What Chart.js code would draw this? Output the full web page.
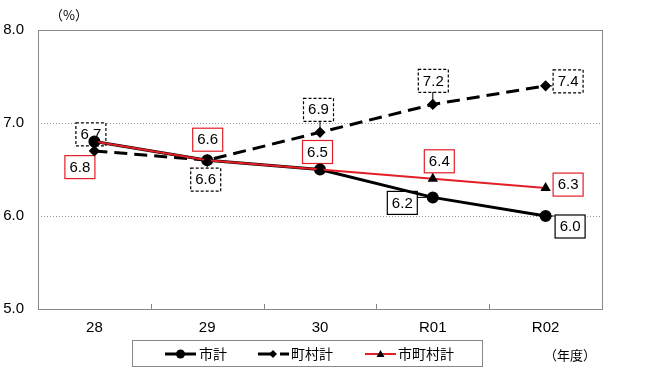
<!DOCTYPE html>
<html>
<head>
<meta charset="utf-8">
<script src="https://cdn.jsdelivr.net/npm/chart.js@4/dist/chart.umd.min.js"></script>
<style>
  body { margin: 0; background: #fff; }
  #wrap { width: 650px; height: 380px; }
</style>
</head>
<body>
<div id="wrap"><canvas id="rateChart" width="650" height="380"></canvas></div>
<script>
// 年度ごとの率（%）
const years = ['28', '29', '30', 'R01', 'R02'];
const cityTotal = [6.8, 6.6, 6.5, 6.2, 6.0];      // 市計
const townTotal = [6.7, 6.6, 6.9, 7.2, 7.4];      // 町村計
const allTotal = [6.8, 6.6, 6.5, 6.4, 6.3];       // 市町村計
const yTicks = [5, 6, 7, 8];

// ラベルの位置（点からのずれ, px）— null は表示しない
const cityLabelPos = [null, null, null, [-31, 5], [24, 10]];
const townLabelPos = [[-4, -17], [-2, 19], [-2, -23], [0, -24], [22, -5]];
const allLabelPos = [[-15, 25], [0, -21], [-3, -18], [6, -18], [22, -4]];

const RED = 'rgb(228,30,38)';
const FONT = '"Liberation Sans", Arial, "Noto Sans CJK JP", sans-serif';
const JFONT = '"Noto Sans CJK JP", "Liberation Sans", sans-serif';

const labelPlugin = {
    id: 'boxLabels',
    beforeDatasetsDraw(chart) {
        const ctx = chart.ctx;
        const setups = [
            { idx: 0, pos: cityLabelPos, color: '#000', dash: [] },
            { idx: 1, pos: townLabelPos, color: '#000', dash: [3, 2] },
            { idx: 2, pos: allLabelPos, color: RED, dash: [] }
        ];
        const bw = 30, bh = 23;
        ctx.save();
        ctx.font = '15px ' + FONT;
        ctx.textAlign = 'center';
        ctx.textBaseline = 'middle';
        setups.forEach(s => {
            const meta = chart.getDatasetMeta(s.idx);
            const values = chart.data.datasets[s.idx].data;
            meta.data.forEach((pt, i) => {
                const p = s.pos[i];
                if (!p) return;
                const cx = pt.x + p[0], cy = pt.y + p[1];
                const x0 = cx - bw / 2, y0 = cy - bh / 2;
                // 引き出し線
                const nx = Math.max(x0, Math.min(pt.x, x0 + bw));
                const ny = Math.max(y0, Math.min(pt.y, y0 + bh));
                if (Math.hypot(nx - pt.x, ny - pt.y) > 3 && s.idx !== 2) {
                    ctx.setLineDash([]);
                    ctx.strokeStyle = '#000';
                    ctx.lineWidth = 1;
                    ctx.beginPath();
                    ctx.moveTo(nx, ny);
                    ctx.lineTo(pt.x, pt.y);
                    ctx.stroke();
                }
                ctx.fillStyle = '#fff';
                ctx.fillRect(x0, y0, bw, bh);
                ctx.setLineDash(s.dash);
                ctx.strokeStyle = s.color;
                ctx.lineWidth = 1.2;
                ctx.strokeRect(x0 + 0.5, y0 + 0.5, bw, bh);
                ctx.setLineDash([]);
                ctx.fillStyle = '#000';
                ctx.fillText(values[i].toFixed(1), cx + 0.5, cy + 1);
            });
        });
        ctx.restore();
    }
};

const framePlugin = {
    id: 'frame',
    afterDraw(chart) {
        const ctx = chart.ctx;
        const a = chart.chartArea;
        const xs = chart.scales.x;
        ctx.save();
        ctx.strokeStyle = '#888';
        ctx.lineWidth = 1;
        ctx.strokeRect(Math.round(a.left) + 0.5, Math.round(a.top) + 0.5,
            Math.round(a.right - a.left), Math.round(a.bottom - a.top));
        // 区切りの目盛り（内向き）
        for (let i = 0; i < years.length - 1; i++) {
            const x = Math.round((xs.getPixelForValue(i) + xs.getPixelForValue(i + 1)) / 2) + 0.5;
            ctx.beginPath();
            ctx.moveTo(x, a.bottom);
            ctx.lineTo(x, a.bottom - 5);
            ctx.stroke();
        }
        ctx.fillStyle = '#000';
        ctx.font = '13px ' + JFONT;
        ctx.textBaseline = 'middle';
        ctx.textAlign = 'left';
        ctx.fillText('（%）', 50, 15);
        ctx.fillText('（年度）', 544, 355);

        // 凡例
        ctx.strokeStyle = '#888';
        ctx.strokeRect(132.5, 340.5, 350, 26);
        const ly = 354;
        // 市計
        ctx.strokeStyle = '#000';
        ctx.lineWidth = 3;
        ctx.beginPath(); ctx.moveTo(165, ly); ctx.lineTo(196, ly); ctx.stroke();
        ctx.fillStyle = '#000';
        ctx.beginPath(); ctx.arc(180.5, ly, 4.5, 0, Math.PI * 2); ctx.fill();
        // 町村計
        ctx.beginPath(); ctx.moveTo(258, ly); ctx.lineTo(272, ly); ctx.stroke();
        ctx.beginPath(); ctx.moveTo(280, ly); ctx.lineTo(289, ly); ctx.stroke();
        ctx.beginPath();
        ctx.moveTo(273, ly - 4); ctx.lineTo(277, ly); ctx.lineTo(273, ly + 4); ctx.lineTo(269, ly);
        ctx.closePath(); ctx.fill();
        // 市町村計
        ctx.strokeStyle = RED;
        ctx.lineWidth = 2;
        ctx.beginPath(); ctx.moveTo(365, ly); ctx.lineTo(396, ly); ctx.stroke();
        ctx.beginPath();
        ctx.moveTo(380.5, ly - 4); ctx.lineTo(384.5, ly + 3); ctx.lineTo(376.5, ly + 3);
        ctx.closePath(); ctx.fill();

        ctx.font = '14px ' + JFONT;
        ctx.fillText('市計', 199, ly);
        ctx.fillText('町村計', 291, ly);
        ctx.fillText('市町村計', 398, ly);
        ctx.restore();
    }
};

new Chart(document.getElementById('rateChart'), {
    type: 'line',
    data: {
        labels: years,
        datasets: [
            {
                label: '市計',
                data: cityTotal,
                borderColor: '#000',
                backgroundColor: '#000',
                borderWidth: 3,
                pointStyle: 'circle',
                pointRadius: 4.5,
                order: 2
            },
            {
                label: '町村計',
                data: townTotal,
                borderColor: '#000',
                backgroundColor: '#000',
                borderWidth: 3,
                borderDash: [13, 7],
                pointStyle: 'rectRot',
                pointRadius: 3.5,
                order: 1
            },
            {
                label: '市町村計',
                data: allTotal,
                borderColor: RED,
                backgroundColor: '#000',
                pointBorderColor: '#000',
                borderWidth: 2,
                pointStyle: 'triangle',
                pointRadius: 4,
                order: 0
            }
        ]
    },
    options: {
        responsive: false,
        animation: false,
        layout: { padding: { left: 0, right: 48, top: 30, bottom: 0 } },
        plugins: {
            legend: { display: false },
            tooltip: { enabled: false }
        },
        scales: {
            x: {
                offset: true,
                grid: { display: false, drawTicks: false },
                border: { display: false },
                ticks: { padding: 10, color: '#000', font: { size: 15, family: FONT } },
                afterFit(scale) { scale.height = 71; }
            },
            y: {
                min: 5,
                max: 8,
                afterBuildTicks(scale) { scale.ticks = yTicks.map(v => ({ value: v })); },
                grid: { color: '#999', drawTicks: false },
                border: { display: false, dash: [1, 2] },
                ticks: {
                    padding: 14,
                    color: '#000',
                    font: { size: 15, family: FONT },
                    callback: v => Number(v).toFixed(1)
                },
                afterFit(scale) { scale.width = 38; }
            }
        }
    },
    plugins: [labelPlugin, framePlugin]
});
</script>
</body>
</html>
